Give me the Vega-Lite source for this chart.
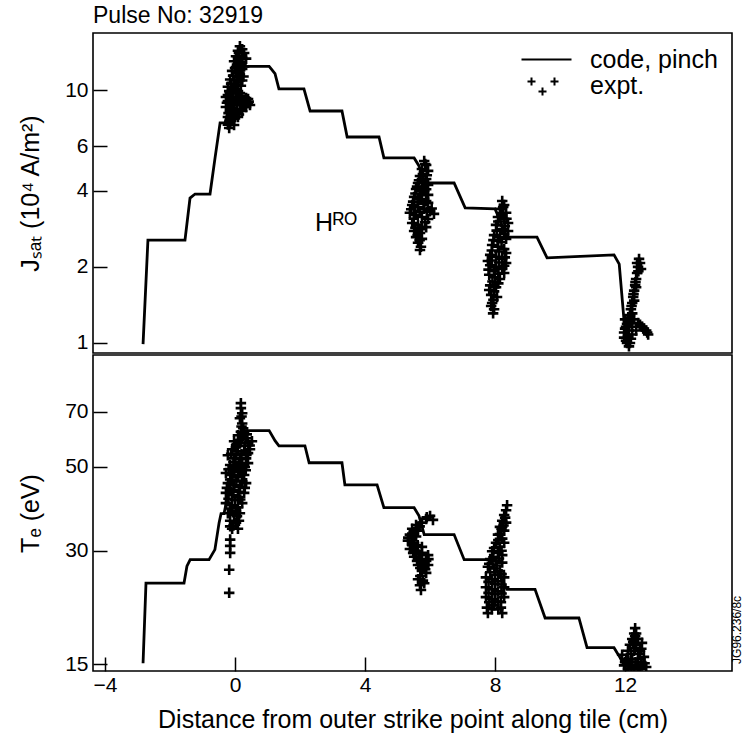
{
  "$schema": "https://vega.github.io/schema/vega-lite/v6.json",
  "background": "white",
  "autosize": {"type": "pad"},
  "padding": {"left": 17, "top": 5, "right": 0, "bottom": 5},
  "config": {
    "font": "Liberation Sans",
    "view": {"stroke": "black", "strokeWidth": 1.6},
    "axis": {
      "labelFont": "Liberation Sans", "labelFontSize": 21, "labelColor": "black",
      "titleFont": "Liberation Sans", "titleFontSize": 24, "titleFontWeight": "normal", "titleColor": "black",
      "tickColor": "black", "tickSize": -14, "tickWidth": 1.5, "domain": false, "grid": false, "labelPadding": 19
    }
  },
  "title": {"text": "Pulse No: 32919", "anchor": "start", "frame": "group", "fontSize": 23, "fontWeight": "normal", "font": "Liberation Sans", "color": "black", "offset": 4},
  "spacing": 0,
  "resolve": {"scale": {"y": "independent", "shape": "independent"}, "legend": {"shape": "independent"}},
  "datasets": {
    "jline": [
      {"x": -2.83, "y": 0.99}, {"x": -2.68, "y": 2.55}, {"x": -1.54, "y": 2.55}, {"x": -1.385, "y": 3.74}, {"x": -1.23, "y": 3.88},
      {"x": -0.77, "y": 3.88}, {"x": -0.615, "y": 5.39}, {"x": -0.46, "y": 7.41}, {"x": -0.31, "y": 7.41}, {"x": 0.15, "y": 12.4},
      {"x": 1.05, "y": 12.4}, {"x": 1.23, "y": 11.6}, {"x": 1.35, "y": 10.1}, {"x": 2.12, "y": 10.1}, {"x": 2.31, "y": 8.26},
      {"x": 3.29, "y": 8.26}, {"x": 3.45, "y": 6.52}, {"x": 4.43, "y": 6.52}, {"x": 4.58, "y": 5.39}, {"x": 5.51, "y": 5.39},
      {"x": 5.66, "y": 5.01}, {"x": 5.82, "y": 4.29}, {"x": 6.74, "y": 4.29}, {"x": 7.08, "y": 3.42}, {"x": 8.0, "y": 3.39},
      {"x": 8.37, "y": 2.62}, {"x": 9.29, "y": 2.62}, {"x": 9.6, "y": 2.17}, {"x": 11.66, "y": 2.23}, {"x": 11.82, "y": 2.05},
      {"x": 11.97, "y": 1.22}, {"x": 12.06, "y": 1.0}
    ],
    "jexp": [
      {"x": 0.15, "y": 14.9}, {"x": 0.22, "y": 14.5}, {"x": 0.09, "y": 14.3}, {"x": 0.28, "y": 14.0}, {"x": 0.03, "y": 13.6},
      {"x": 0.22, "y": 13.4}, {"x": 0.34, "y": 13.3}, {"x": -0.03, "y": 13.0}, {"x": 0.15, "y": 12.8}, {"x": 0.09, "y": 12.3},
      {"x": 0.28, "y": 12.4}, {"x": -0.09, "y": 11.9}, {"x": 0.03, "y": 11.7}, {"x": 0.15, "y": 11.5}, {"x": -0.15, "y": 11.0},
      {"x": -0.03, "y": 10.9}, {"x": 0.09, "y": 10.7}, {"x": 0.22, "y": 10.9}, {"x": -0.22, "y": 10.3}, {"x": -0.09, "y": 10.1},
      {"x": 0.03, "y": 9.91}, {"x": 0.15, "y": 9.73}, {"x": -0.22, "y": 9.55}, {"x": -0.09, "y": 9.38}, {"x": 0.09, "y": 9.21},
      {"x": 0.28, "y": 9.05}, {"x": 0.40, "y": 8.89}, {"x": 0.46, "y": 8.73}, {"x": 0.34, "y": 8.57}, {"x": -0.22, "y": 9.05},
      {"x": -0.03, "y": 8.73}, {"x": 0.15, "y": 8.41}, {"x": -0.15, "y": 8.26}, {"x": 0.03, "y": 8.11}, {"x": 0.22, "y": 8.26},
      {"x": -0.22, "y": 7.82}, {"x": -0.09, "y": 7.68}, {"x": 0.09, "y": 7.82}, {"x": -0.15, "y": 7.41}, {"x": -0.03, "y": 7.27},
      {"x": -0.18, "y": 7.08}, {"x": -0.28, "y": 8.57}, {"x": -0.28, "y": 9.38}, {"x": 0.09, "y": 13.5}, {"x": 0.22, "y": 12.1},
      {"x": -0.03, "y": 10.3}, {"x": -0.15, "y": 8.89}, {"x": 0.03, "y": 9.38}, {"x": 0.22, "y": 9.05}, {"x": 0.09, "y": 9.91},
      {"x": -0.09, "y": 8.26}, {"x": 0.40, "y": 9.21}, {"x": 0.34, "y": 8.89},
      {"x": 0.12, "y": 14.0}, {"x": 0.18, "y": 13.2}, {"x": 0.06, "y": 12.6}, {"x": 0.2, "y": 12.6}, {"x": 0.0, "y": 12.2},
      {"x": 0.12, "y": 12.0}, {"x": -0.06, "y": 11.4}, {"x": 0.1, "y": 11.2}, {"x": 0.26, "y": 11.3}, {"x": -0.12, "y": 10.6},
      {"x": 0.05, "y": 10.5}, {"x": 0.18, "y": 10.4}, {"x": -0.18, "y": 9.9}, {"x": -0.05, "y": 9.7}, {"x": 0.2, "y": 9.5},
      {"x": 0.34, "y": 9.3}, {"x": -0.1, "y": 9.0}, {"x": 0.06, "y": 8.9}, {"x": 0.25, "y": 8.7}, {"x": 0.42, "y": 9.0},
      {"x": -0.25, "y": 8.9}, {"x": -0.12, "y": 8.5}, {"x": 0.05, "y": 8.4}, {"x": -0.2, "y": 8.1}, {"x": -0.05, "y": 7.95},
      {"x": 0.12, "y": 8.0}, {"x": -0.12, "y": 7.55}, {"x": -0.22, "y": 7.3},
      {"x": 5.82, "y": 5.24}, {"x": 5.88, "y": 5.05}, {"x": 5.75, "y": 4.87}, {"x": 5.94, "y": 4.79}, {"x": 5.69, "y": 4.57},
      {"x": 5.88, "y": 4.45}, {"x": 5.63, "y": 4.29}, {"x": 5.94, "y": 4.21}, {"x": 5.57, "y": 4.06}, {"x": 5.82, "y": 3.99},
      {"x": 5.94, "y": 3.85}, {"x": 5.51, "y": 3.78}, {"x": 5.69, "y": 3.71}, {"x": 5.88, "y": 3.64}, {"x": 5.45, "y": 3.51},
      {"x": 5.63, "y": 3.45}, {"x": 5.82, "y": 3.39}, {"x": 6.0, "y": 3.32}, {"x": 6.12, "y": 3.24}, {"x": 5.38, "y": 3.27},
      {"x": 5.57, "y": 3.21}, {"x": 5.75, "y": 3.15}, {"x": 5.94, "y": 3.09}, {"x": 5.45, "y": 2.98}, {"x": 5.63, "y": 2.93},
      {"x": 5.75, "y": 2.87}, {"x": 5.51, "y": 2.77}, {"x": 5.69, "y": 2.72}, {"x": 5.57, "y": 2.62}, {"x": 5.75, "y": 2.58},
      {"x": 5.63, "y": 2.49}, {"x": 5.72, "y": 2.40}, {"x": 5.69, "y": 2.33}, {"x": 5.88, "y": 2.87}, {"x": 5.75, "y": 4.14},
      {"x": 5.69, "y": 3.99}, {"x": 5.51, "y": 3.45}, {"x": 5.94, "y": 3.58},
      {"x": 5.85, "y": 5.1}, {"x": 5.78, "y": 4.65}, {"x": 5.9, "y": 4.6}, {"x": 5.66, "y": 4.4}, {"x": 5.8, "y": 4.35},
      {"x": 5.6, "y": 4.15}, {"x": 5.88, "y": 4.05}, {"x": 5.55, "y": 3.9}, {"x": 5.75, "y": 3.85}, {"x": 5.62, "y": 3.6},
      {"x": 5.8, "y": 3.55}, {"x": 5.48, "y": 3.62}, {"x": 5.68, "y": 3.3}, {"x": 5.9, "y": 3.3}, {"x": 5.5, "y": 3.1},
      {"x": 5.85, "y": 3.0}, {"x": 5.55, "y": 2.85}, {"x": 5.7, "y": 2.82}, {"x": 5.62, "y": 2.67}, {"x": 5.68, "y": 2.55},
      {"x": 6.05, "y": 3.4}, {"x": 5.42, "y": 3.38},
      {"x": 8.22, "y": 3.64}, {"x": 8.28, "y": 3.51}, {"x": 8.15, "y": 3.39}, {"x": 8.34, "y": 3.27}, {"x": 8.09, "y": 3.15},
      {"x": 8.28, "y": 3.09}, {"x": 8.40, "y": 2.98}, {"x": 8.03, "y": 2.93}, {"x": 8.22, "y": 2.82}, {"x": 8.40, "y": 2.77},
      {"x": 7.97, "y": 2.67}, {"x": 8.15, "y": 2.62}, {"x": 8.34, "y": 2.58}, {"x": 7.91, "y": 2.44}, {"x": 8.09, "y": 2.40},
      {"x": 8.28, "y": 2.35}, {"x": 7.85, "y": 2.23}, {"x": 8.03, "y": 2.19}, {"x": 8.22, "y": 2.15}, {"x": 8.34, "y": 2.27},
      {"x": 7.85, "y": 2.03}, {"x": 8.03, "y": 2.0}, {"x": 8.22, "y": 1.96}, {"x": 7.82, "y": 1.86}, {"x": 8.0, "y": 1.82},
      {"x": 8.15, "y": 1.79}, {"x": 7.85, "y": 1.69}, {"x": 8.03, "y": 1.66}, {"x": 7.88, "y": 1.55}, {"x": 8.06, "y": 1.52},
      {"x": 7.91, "y": 1.44}, {"x": 7.97, "y": 1.36}, {"x": 7.94, "y": 1.31}, {"x": 7.78, "y": 2.11}, {"x": 8.34, "y": 2.07},
      {"x": 8.28, "y": 1.89}, {"x": 8.09, "y": 2.53},
      {"x": 8.25, "y": 3.45}, {"x": 8.2, "y": 3.2}, {"x": 8.35, "y": 3.1}, {"x": 8.1, "y": 3.02}, {"x": 8.3, "y": 2.9},
      {"x": 8.05, "y": 2.78}, {"x": 8.28, "y": 2.7}, {"x": 7.95, "y": 2.55}, {"x": 8.2, "y": 2.5}, {"x": 7.9, "y": 2.32},
      {"x": 8.12, "y": 2.3}, {"x": 8.3, "y": 2.18}, {"x": 7.9, "y": 2.12}, {"x": 8.12, "y": 2.08}, {"x": 8.28, "y": 2.02},
      {"x": 7.8, "y": 1.95}, {"x": 7.97, "y": 1.92}, {"x": 8.1, "y": 1.88}, {"x": 7.92, "y": 1.75}, {"x": 8.1, "y": 1.72},
      {"x": 7.82, "y": 1.62}, {"x": 7.97, "y": 1.6}, {"x": 7.95, "y": 1.48}, {"x": 7.88, "y": 1.4},
      {"x": 12.43, "y": 2.15}, {"x": 12.46, "y": 2.07}, {"x": 12.40, "y": 2.0}, {"x": 12.37, "y": 1.89}, {"x": 12.34, "y": 1.79},
      {"x": 12.31, "y": 1.69}, {"x": 12.28, "y": 1.61}, {"x": 12.25, "y": 1.52}, {"x": 12.22, "y": 1.44}, {"x": 12.18, "y": 1.36},
      {"x": 12.15, "y": 1.29}, {"x": 12.09, "y": 1.22}, {"x": 12.03, "y": 1.16}, {"x": 12.15, "y": 1.20}, {"x": 12.28, "y": 1.24},
      {"x": 12.40, "y": 1.20}, {"x": 12.52, "y": 1.16}, {"x": 12.65, "y": 1.12}, {"x": 12.71, "y": 1.08}, {"x": 11.97, "y": 1.10},
      {"x": 12.09, "y": 1.06}, {"x": 12.22, "y": 1.08}, {"x": 12.34, "y": 1.12}, {"x": 12.03, "y": 1.02}, {"x": 12.15, "y": 1.0},
      {"x": 12.12, "y": 0.97}, {"x": 12.0, "y": 1.24}, {"x": 12.37, "y": 2.07}, {"x": 12.49, "y": 1.96}, {"x": 12.34, "y": 1.66},
      {"x": 12.28, "y": 1.47}, {"x": 12.22, "y": 1.31},
      {"x": 12.41, "y": 1.92}, {"x": 12.32, "y": 1.74}, {"x": 12.26, "y": 1.56}, {"x": 12.2, "y": 1.4}, {"x": 12.12, "y": 1.26},
      {"x": 12.06, "y": 1.19}, {"x": 12.0, "y": 1.14}, {"x": 12.12, "y": 1.12}, {"x": 12.22, "y": 1.16}, {"x": 12.46, "y": 1.18},
      {"x": 12.58, "y": 1.14}, {"x": 12.68, "y": 1.1}, {"x": 12.06, "y": 1.0}, {"x": 11.97, "y": 1.05}, {"x": 12.18, "y": 1.04}
    ],
    "tline": [
      {"x": -2.83, "y": 15.1}, {"x": -2.74, "y": 24.6}, {"x": -1.57, "y": 24.6}, {"x": -1.48, "y": 27.3}, {"x": -1.38, "y": 28.4},
      {"x": -0.80, "y": 28.4}, {"x": -0.62, "y": 30.2}, {"x": -0.49, "y": 35.6}, {"x": -0.43, "y": 37.6}, {"x": -0.34, "y": 37.6},
      {"x": 0.2, "y": 62.4}, {"x": 1.05, "y": 62.4}, {"x": 1.23, "y": 58.7}, {"x": 1.35, "y": 56.9}, {"x": 2.15, "y": 56.9},
      {"x": 2.28, "y": 51.3}, {"x": 3.29, "y": 51.3}, {"x": 3.38, "y": 44.8}, {"x": 4.37, "y": 44.8}, {"x": 4.58, "y": 39.0},
      {"x": 5.51, "y": 39.0}, {"x": 5.66, "y": 37.1}, {"x": 5.82, "y": 33.1}, {"x": 6.74, "y": 33.1}, {"x": 7.05, "y": 28.4},
      {"x": 7.85, "y": 28.4}, {"x": 8.37, "y": 23.7}, {"x": 9.23, "y": 23.7}, {"x": 9.54, "y": 19.9}, {"x": 10.58, "y": 19.9},
      {"x": 10.83, "y": 16.6}, {"x": 11.66, "y": 16.6}, {"x": 11.85, "y": 15.6}, {"x": 12.06, "y": 14.4}
    ],
    "texp": [
      {"x": 0.18, "y": 73.8}, {"x": 0.18, "y": 71.6}, {"x": 0.22, "y": 69.4}, {"x": 0.15, "y": 67.3}, {"x": 0.22, "y": 65.2},
      {"x": 0.25, "y": 63.3}, {"x": 0.28, "y": 61.4}, {"x": 0.09, "y": 60.7}, {"x": 0.34, "y": 59.6}, {"x": -0.03, "y": 58.5},
      {"x": 0.15, "y": 57.8}, {"x": 0.40, "y": 57.8}, {"x": -0.09, "y": 55.7}, {"x": 0.09, "y": 55.0}, {"x": 0.28, "y": 55.0},
      {"x": 0.46, "y": 55.7}, {"x": -0.22, "y": 53.7}, {"x": -0.03, "y": 52.7}, {"x": 0.15, "y": 52.4}, {"x": 0.34, "y": 52.7},
      {"x": -0.15, "y": 50.6}, {"x": 0.03, "y": 50.0}, {"x": 0.22, "y": 50.6}, {"x": 0.40, "y": 51.2}, {"x": -0.28, "y": 48.2},
      {"x": -0.09, "y": 47.6}, {"x": 0.09, "y": 47.0}, {"x": 0.28, "y": 47.6}, {"x": -0.22, "y": 45.3}, {"x": -0.03, "y": 44.8},
      {"x": 0.15, "y": 44.3}, {"x": 0.34, "y": 45.3}, {"x": -0.28, "y": 42.7}, {"x": -0.09, "y": 42.1}, {"x": 0.09, "y": 41.6},
      {"x": 0.28, "y": 42.7}, {"x": -0.28, "y": 40.1}, {"x": -0.09, "y": 39.6}, {"x": 0.09, "y": 39.1}, {"x": -0.22, "y": 37.7},
      {"x": -0.03, "y": 37.3}, {"x": 0.15, "y": 37.7}, {"x": -0.15, "y": 36.0}, {"x": 0.03, "y": 35.6}, {"x": -0.09, "y": 34.3},
      {"x": 0.09, "y": 34.3}, {"x": -0.15, "y": 32.1}, {"x": -0.15, "y": 30.9}, {"x": -0.15, "y": 29.6}, {"x": -0.18, "y": 26.7},
      {"x": -0.18, "y": 23.2}, {"x": 0.22, "y": 49.4}, {"x": -0.15, "y": 43.7}, {"x": 0.52, "y": 58.5}, {"x": 0.40, "y": 54.4},
      {"x": 0.03, "y": 56.4}, {"x": 0.22, "y": 40.1}, {"x": 0.03, "y": 38.2}, {"x": 0.22, "y": 59.3},
      {"x": 0.2, "y": 68.0}, {"x": 0.2, "y": 64.0}, {"x": 0.18, "y": 62.0}, {"x": 0.26, "y": 60.5}, {"x": 0.12, "y": 58.9},
      {"x": 0.05, "y": 57.5}, {"x": 0.3, "y": 56.8}, {"x": -0.12, "y": 54.2}, {"x": 0.2, "y": 54.0}, {"x": 0.35, "y": 53.8},
      {"x": -0.05, "y": 51.5}, {"x": 0.12, "y": 51.0}, {"x": 0.3, "y": 50.0}, {"x": -0.2, "y": 49.3}, {"x": -0.02, "y": 48.8},
      {"x": 0.16, "y": 48.5}, {"x": 0.33, "y": 49.0}, {"x": -0.15, "y": 46.3}, {"x": 0.04, "y": 46.0}, {"x": 0.22, "y": 45.8},
      {"x": -0.25, "y": 44.0}, {"x": -0.05, "y": 43.5}, {"x": 0.12, "y": 43.0}, {"x": 0.3, "y": 44.0}, {"x": -0.2, "y": 41.2},
      {"x": 0.0, "y": 40.8}, {"x": 0.16, "y": 41.0}, {"x": -0.15, "y": 38.8}, {"x": 0.06, "y": 37.0}, {"x": -0.05, "y": 35.0},
      {"x": -0.15, "y": 34.8}, {"x": 0.12, "y": 36.0}, {"x": 0.45, "y": 57.0}, {"x": 0.36, "y": 61.0},
      {"x": 6.0, "y": 37.1}, {"x": 6.09, "y": 36.2}, {"x": 5.88, "y": 36.4}, {"x": 5.75, "y": 35.6}, {"x": 5.57, "y": 35.1},
      {"x": 5.45, "y": 34.3}, {"x": 5.63, "y": 33.9}, {"x": 5.38, "y": 33.1}, {"x": 5.57, "y": 32.7}, {"x": 5.32, "y": 31.9},
      {"x": 5.51, "y": 31.5}, {"x": 5.38, "y": 30.3}, {"x": 5.57, "y": 29.9}, {"x": 5.75, "y": 29.6}, {"x": 5.51, "y": 28.9},
      {"x": 5.69, "y": 28.5}, {"x": 5.88, "y": 28.2}, {"x": 5.63, "y": 27.5}, {"x": 5.82, "y": 27.2}, {"x": 5.94, "y": 27.5},
      {"x": 5.75, "y": 26.5}, {"x": 5.88, "y": 26.2}, {"x": 5.63, "y": 25.2}, {"x": 5.69, "y": 24.3}, {"x": 5.72, "y": 23.6},
      {"x": 5.82, "y": 24.6}, {"x": 5.75, "y": 30.7}, {"x": 5.94, "y": 29.2},
      {"x": 5.9, "y": 36.8}, {"x": 5.68, "y": 34.8}, {"x": 5.5, "y": 33.6}, {"x": 5.44, "y": 32.4}, {"x": 5.45, "y": 31.0},
      {"x": 5.62, "y": 31.0}, {"x": 5.48, "y": 29.6}, {"x": 5.66, "y": 29.3}, {"x": 5.6, "y": 28.2}, {"x": 5.78, "y": 27.8},
      {"x": 5.7, "y": 27.0}, {"x": 5.85, "y": 26.8}, {"x": 5.7, "y": 25.7}, {"x": 5.78, "y": 25.0}, {"x": 5.95, "y": 28.5},
      {"x": 5.33, "y": 32.5},
      {"x": 8.37, "y": 39.6}, {"x": 8.34, "y": 38.4}, {"x": 8.28, "y": 37.3}, {"x": 8.22, "y": 36.0}, {"x": 8.34, "y": 35.6},
      {"x": 8.15, "y": 34.7}, {"x": 8.28, "y": 33.9}, {"x": 8.09, "y": 33.1}, {"x": 8.22, "y": 32.3}, {"x": 8.03, "y": 31.5},
      {"x": 8.15, "y": 30.7}, {"x": 8.28, "y": 31.5}, {"x": 7.91, "y": 29.9}, {"x": 8.09, "y": 29.6}, {"x": 8.22, "y": 29.2},
      {"x": 7.85, "y": 28.5}, {"x": 8.03, "y": 28.2}, {"x": 8.22, "y": 27.9}, {"x": 7.78, "y": 27.2}, {"x": 7.97, "y": 26.9},
      {"x": 8.15, "y": 26.5}, {"x": 7.72, "y": 25.5}, {"x": 7.91, "y": 25.2}, {"x": 8.09, "y": 24.9}, {"x": 8.28, "y": 25.5},
      {"x": 7.72, "y": 24.0}, {"x": 7.91, "y": 23.7}, {"x": 8.09, "y": 23.4}, {"x": 8.28, "y": 24.0}, {"x": 7.72, "y": 22.6},
      {"x": 7.91, "y": 22.3}, {"x": 8.09, "y": 22.0}, {"x": 8.28, "y": 22.6}, {"x": 7.75, "y": 21.2}, {"x": 7.78, "y": 20.5},
      {"x": 8.18, "y": 21.2}, {"x": 8.22, "y": 20.5}, {"x": 7.97, "y": 21.5},
      {"x": 8.31, "y": 36.7}, {"x": 8.26, "y": 35.0}, {"x": 8.2, "y": 34.3}, {"x": 8.15, "y": 33.2}, {"x": 8.1, "y": 32.0},
      {"x": 8.2, "y": 30.0}, {"x": 7.97, "y": 30.5}, {"x": 7.95, "y": 28.8}, {"x": 8.12, "y": 28.6}, {"x": 7.82, "y": 27.7},
      {"x": 8.05, "y": 27.4}, {"x": 7.85, "y": 26.3}, {"x": 8.0, "y": 25.9}, {"x": 8.2, "y": 26.0}, {"x": 7.8, "y": 24.8},
      {"x": 8.0, "y": 24.5}, {"x": 8.2, "y": 24.4}, {"x": 7.8, "y": 23.2}, {"x": 8.0, "y": 23.0}, {"x": 8.2, "y": 23.1},
      {"x": 7.82, "y": 21.9}, {"x": 8.0, "y": 22.0}, {"x": 8.18, "y": 21.9}, {"x": 7.9, "y": 21.0}, {"x": 8.1, "y": 21.0},
      {"x": 12.31, "y": 18.7}, {"x": 12.28, "y": 18.1}, {"x": 12.34, "y": 18.1}, {"x": 12.22, "y": 17.5}, {"x": 12.40, "y": 17.5},
      {"x": 12.15, "y": 16.9}, {"x": 12.34, "y": 16.9}, {"x": 12.52, "y": 17.1}, {"x": 12.09, "y": 16.3}, {"x": 12.28, "y": 16.3},
      {"x": 12.46, "y": 16.3}, {"x": 11.91, "y": 15.9}, {"x": 12.03, "y": 15.5}, {"x": 12.22, "y": 15.5}, {"x": 12.40, "y": 15.5},
      {"x": 12.58, "y": 15.7}, {"x": 11.97, "y": 14.9}, {"x": 12.15, "y": 14.9}, {"x": 12.34, "y": 14.9}, {"x": 12.52, "y": 14.9},
      {"x": 12.65, "y": 14.75}, {"x": 12.09, "y": 14.6}, {"x": 12.28, "y": 14.6}, {"x": 12.46, "y": 14.6},
      {"x": 12.31, "y": 17.8}, {"x": 12.25, "y": 17.2}, {"x": 12.3, "y": 16.6}, {"x": 12.18, "y": 16.0}, {"x": 12.4, "y": 16.0},
      {"x": 12.5, "y": 16.5}, {"x": 12.1, "y": 15.3}, {"x": 12.32, "y": 15.2}, {"x": 12.5, "y": 15.2}, {"x": 12.0, "y": 15.2},
      {"x": 12.2, "y": 14.8}, {"x": 12.4, "y": 14.75}, {"x": 12.6, "y": 15.1}
    ],
    "legendrows": [{"series": "code, pinch", "x": 0, "y": 1}]
  },
  "vconcat": [
    {
      "width": 639,
      "height": 320,
      "layer": [
        {
          "data": {"name": "jline"},
          "mark": {"type": "line", "color": "black", "strokeWidth": 2.8, "clip": true},
          "encoding": {
            "x": {"field": "x", "type": "quantitative", "scale": {"domain": [-4.37, 15.29], "nice": false, "zero": false}, "axis": null},
            "y": {"field": "y", "type": "quantitative", "scale": {"type": "log", "domain": [0.913, 16.8], "nice": false},
                  "axis": {"values": [1, 2, 4, 6, 10], "format": "d", "title": "Jₛₐₜ (10⁴ A/m²)", "titlePadding": 21, "titleFontSize": 25}}
          }
        },
        {
          "data": {"name": "jexp"},
          "mark": {"type": "point", "shape": "M-1,0H1M0,-1V1", "size": 110, "strokeWidth": 2.6, "color": "black", "filled": false, "opacity": 1, "clip": true},
          "encoding": {
            "x": {"field": "x", "type": "quantitative"},
            "y": {"field": "y", "type": "quantitative"}
          }
        },
        {
          "data": {"name": "legendrows"},
          "transform": [{"filter": "datum.x > 1000"}],
          "mark": {"type": "point", "filled": false, "color": "black", "strokeWidth": 2, "opacity": 1},
          "encoding": {
            "x": {"field": "x", "type": "quantitative"},
            "y": {"field": "y", "type": "quantitative"},
            "shape": {
              "field": "series", "type": "nominal",
              "scale": {"domain": ["code, pinch", "expt."],
                        "range": ["M-2.5,0H2.5", "M-1.9,-0.4H-1.1M-1.5,-0.8V0M-0.8,0.6H0M-0.4,0.2V1M0.4,-0.4H1.2M0.8,-0.8V0"]},
              "legend": {"orient": "top-right", "title": null, "offset": 14, "padding": 0,
                         "labelFontSize": 25, "labelFont": "Liberation Sans", "labelColor": "black",
                         "symbolSize": 400, "symbolStrokeWidth": 2, "symbolStrokeColor": "black", "symbolFillColor": "transparent",
                         "symbolOpacity": 1, "labelOffset": 31, "rowPadding": -6}
            }
          }
        },
        {
          "data": {"values": [{"x": 2.46, "y": 2.77, "label": "Hᴿᴼ"}]},
          "mark": {"type": "text", "align": "left", "baseline": "alphabetic", "fontSize": 25, "font": "Liberation Sans", "color": "black"},
          "encoding": {
            "x": {"field": "x", "type": "quantitative"},
            "y": {"field": "y", "type": "quantitative"},
            "text": {"field": "label"}
          }
        }
      ]
    },
    {
      "width": 639,
      "height": 316,
      "layer": [
        {
          "data": {"name": "tline"},
          "mark": {"type": "line", "color": "black", "strokeWidth": 2.8, "clip": true},
          "encoding": {
            "x": {"field": "x", "type": "quantitative", "scale": {"domain": [-4.37, 15.29], "nice": false, "zero": false},
                  "axis": {"values": [-4, 0, 4, 8, 12], "title": "Distance from outer strike point along tile (cm)", "labelPadding": 17, "titlePadding": 12, "titleFontSize": 25}},
            "y": {"field": "y", "type": "quantitative", "scale": {"type": "log", "domain": [14.4, 99], "nice": false},
                  "axis": {"values": [15, 30, 50, 70], "format": "d", "title": "Tₑ (eV)", "titlePadding": 21, "titleFontSize": 25}}
          }
        },
        {
          "data": {"name": "texp"},
          "mark": {"type": "point", "shape": "M-1,0H1M0,-1V1", "size": 110, "strokeWidth": 2.6, "color": "black", "filled": false, "opacity": 1, "clip": true},
          "encoding": {
            "x": {"field": "x", "type": "quantitative"},
            "y": {"field": "y", "type": "quantitative"}
          }
        },
        {
          "data": {"values": [{"x": 15.45, "y": 18.5, "label": "JG96.236/8c"}]},
          "mark": {"type": "text", "angle": 270, "align": "center", "baseline": "middle", "fontSize": 12, "font": "Liberation Sans", "color": "black"},
          "encoding": {
            "x": {"field": "x", "type": "quantitative"},
            "y": {"field": "y", "type": "quantitative"},
            "text": {"field": "label"}
          }
        }
      ]
    }
  ]
}
